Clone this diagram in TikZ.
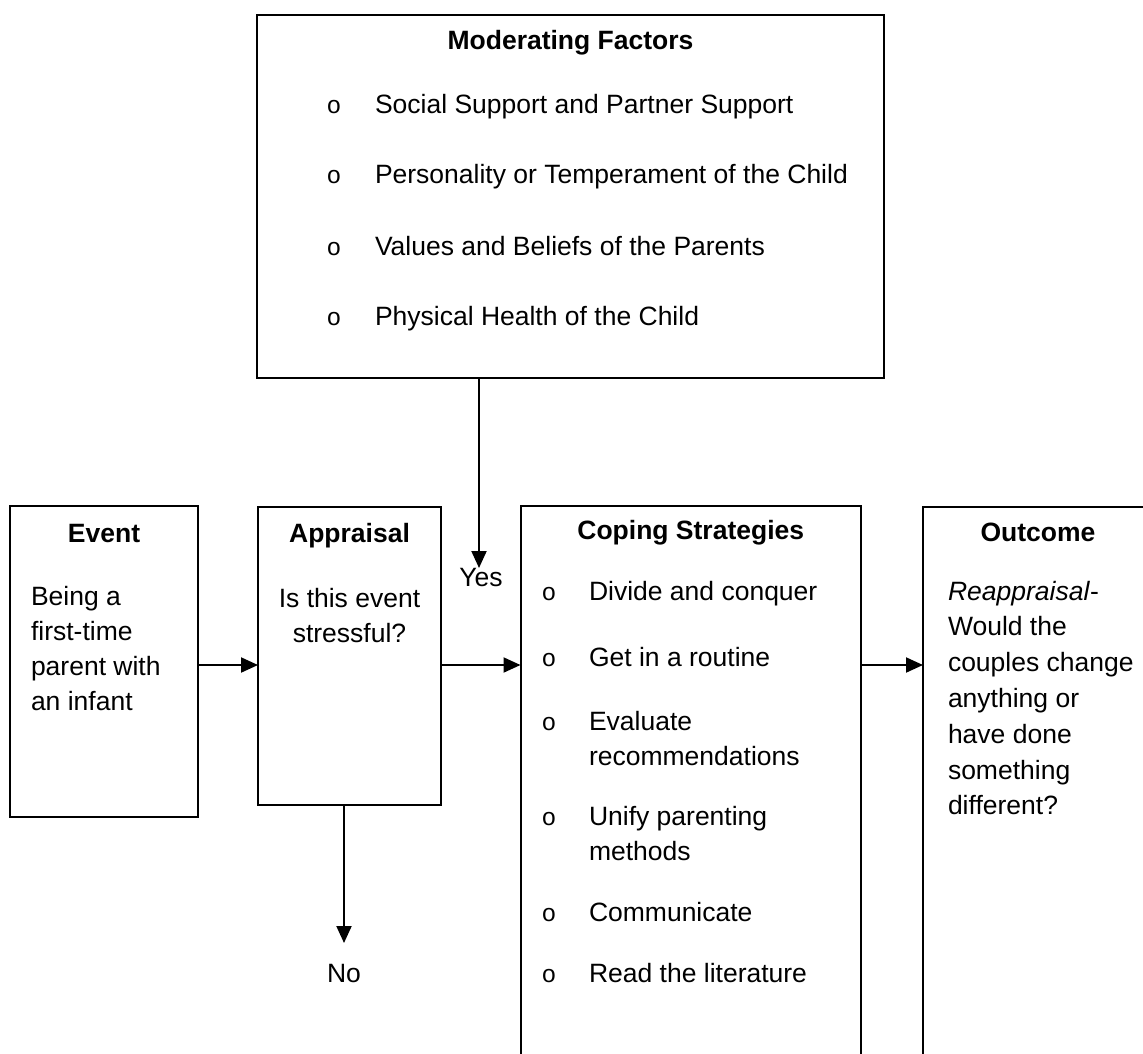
\documentclass[tikz,border=0pt]{standalone}
\usepackage{fontspec}
\setmainfont{Liberation Sans}
\newfontfamily\bulletfont{Liberation Mono}
\usetikzlibrary{arrows.meta}
\begin{document}
\begin{tikzpicture}[x=1pt,y=-1pt,
  box/.style={draw, line width=2pt, rectangle, inner sep=0pt, outer sep=0pt},
  txt/.style={inner sep=0pt, outer sep=0pt, font=\fontsize{26.5}{35}\selectfont},
  ttl/.style={inner sep=0pt, outer sep=0pt, anchor=base, font=\fontsize{26.5}{35}\selectfont\bfseries},
  ln/.style={txt, anchor=base west},
  bul/.style={inner sep=0pt, outer sep=0pt, anchor=base, font=\fontsize{24.5}{35}\selectfont\bulletfont},
  arr/.style={line width=2pt, -{Triangle[length=17pt,width=15pt]}}]
\useasboundingbox (0,0) rectangle (1143,1053);
\clip (0,0) rectangle (1143,1053);

% boxes
\node[box, minimum width=627pt, minimum height=363pt] (mf) at (570.5,196.5) {};
\node[box, minimum width=188pt, minimum height=311pt] (event) at (104,661.5) {};
\node[box, minimum width=183pt, minimum height=298pt] (appr) at (349.5,656) {};
\node[box, minimum width=340.5pt, minimum height=594pt] (cope) at (690.75,803) {};
\node[box, minimum width=230pt, minimum height=594pt] (outc) at (1038,804) {};

% Moderating factors
\node[ttl] (mft) at (570.5,49) {Moderating Factors};
\node[bul] (mfb1) at (334,113) {o};
\node[ln] (mf1) at (375,113) {Social Support and Partner Support};
\node[bul] (mfb2) at (334,183) {o};
\node[ln] (mf2) at (375,183) {Personality or Temperament of the Child};
\node[bul] (mfb3) at (334,255) {o};
\node[ln] (mf3) at (375,255) {Values and Beliefs of the Parents};
\node[bul] (mfb4) at (334,325) {o};
\node[ln] (mf4) at (375,325) {Physical Health of the Child};

% Event
\node[ttl] (evt) at (104,542) {Event};
\node[ln] (ev1) at (31,605) {Being a};
\node[ln] (ev2) at (31,640) {first-time};
\node[ln] (ev3) at (31,675) {parent with};
\node[ln] (ev4) at (31,710) {an infant};

% Appraisal
\node[ttl] (apt) at (349.5,542) {Appraisal};
\node[txt, anchor=base] (ap1) at (349.5,607) {Is this event};
\node[txt, anchor=base] (ap2) at (349.5,642) {stressful?};

% Coping strategies
\node[ttl] (cot) at (690.75,539) {Coping Strategies};
\node[bul] (cb1) at (549,600) {o};
\node[ln] (c1) at (589,600) {Divide and conquer};
\node[bul] (cb2) at (549,666) {o};
\node[ln] (c2) at (589,666) {Get in a routine};
\node[bul] (cb3) at (549,730) {o};
\node[ln] (c3a) at (589,730) {Evaluate};
\node[ln] (c3b) at (589,765) {recommendations};
\node[bul] (cb4) at (549,825) {o};
\node[ln] (c4a) at (589,825) {Unify parenting};
\node[ln] (c4b) at (589,860) {methods};
\node[bul] (cb5) at (549,921) {o};
\node[ln] (c5) at (589,921) {Communicate};
\node[bul] (cb6) at (549,982) {o};
\node[ln] (c6) at (589,982) {Read the literature};

% Outcome
\node[ttl] (out) at (1038,541) {Outcome};
\node[ln] (o1) at (948,600) {\textit{Reappraisal}-};
\node[ln] (o2) at (948,635.8) {Would the};
\node[ln] (o3) at (948,671.6) {couples change};
\node[ln] (o4) at (948,707.4) {anything or};
\node[ln] (o5) at (948,743.2) {have done};
\node[ln] (o6) at (948,779) {something};
\node[ln] (o7) at (948,814.8) {different?};

% connectors
\coordinate (ya) at (0,665);
\draw[arr] (event.east |- ya) -- (appr.west |- ya);
\draw[arr] (appr.east |- ya) -- (cope.west |- ya);
\draw[arr] (cope.east |- ya) -- (outc.west |- ya);
\coordinate (ytip) at (479,568);
\draw[arr] (mf.south -| ytip) -- (ytip);
\node[txt, anchor=base] (yes) at (481,586) {Yes};
\coordinate (ntip) at (344,943);
\draw[arr] (appr.south -| ntip) -- (ntip);
\node[txt, anchor=base] (no) at (344,982) {No};
\end{tikzpicture}
\end{document}
